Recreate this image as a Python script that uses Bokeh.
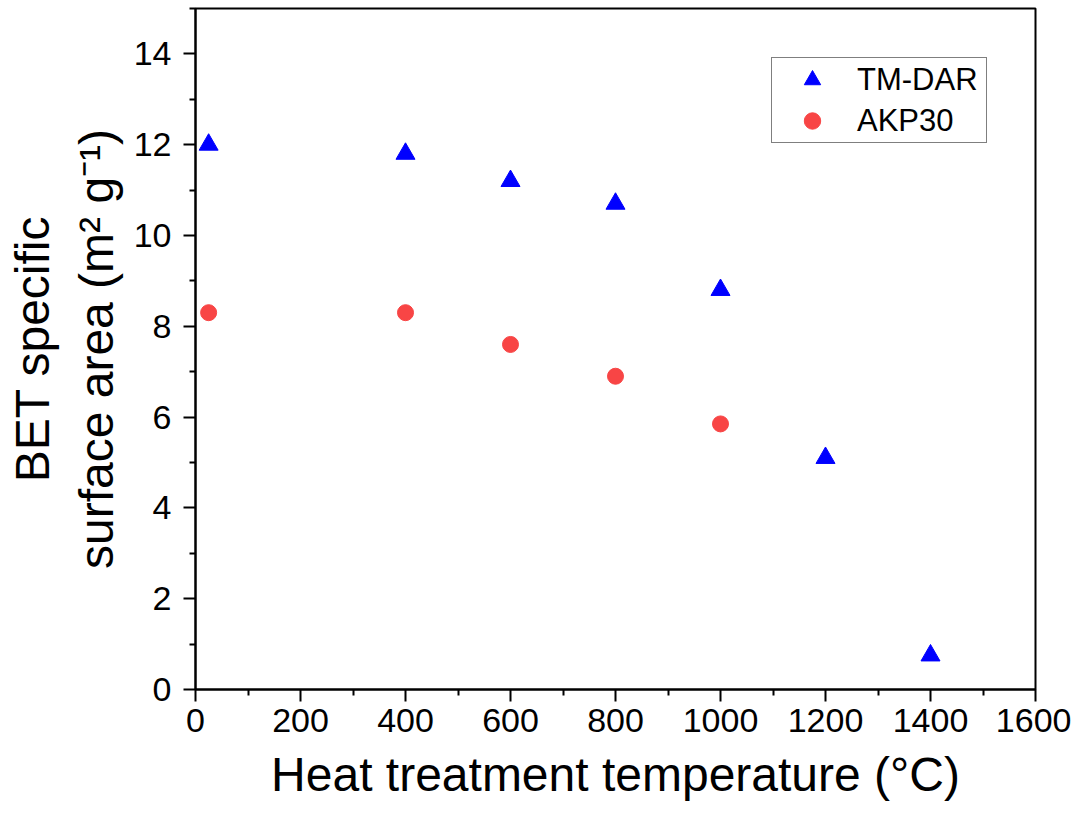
from bokeh.plotting import figure
from bokeh.models import Range1d, FixedTicker, Legend, LegendItem
from bokeh.embed import file_html
from bokeh.resources import INLINE

# Data
temp_tm = [25, 400, 600, 800, 1000, 1200, 1400]
bet_tm = [12.0, 11.8, 11.2, 10.7, 8.8, 5.1, 0.75]
temp_akp = [25, 400, 600, 800, 1000]
bet_akp = [8.3, 8.3, 7.6, 6.9, 5.85]
series_names = ["TM-DAR", "AKP30"]
x_ticks = [0, 200, 400, 600, 800, 1000, 1200, 1400, 1600]
y_ticks = [0, 2, 4, 6, 8, 10, 12, 14]
x_minor = [100, 300, 500, 700, 900, 1100, 1300, 1500]
y_minor = [1, 3, 5, 7, 9, 11, 13, 15]

FONT = "Liberation Sans"

p = figure(width=1071, height=805, output_backend="svg", toolbar_location=None,
           x_range=Range1d(0, 1600), y_range=Range1d(0, 15),
           min_border_left=195, min_border_right=36, min_border_top=8, min_border_bottom=116)

p.grid.visible = False
p.outline_line_color = "black"
p.outline_line_width = 2

for ax in (p.xaxis[0], p.yaxis[0]):
    ax.axis_line_width = 2
    ax.major_tick_line_width = 2
    ax.minor_tick_line_width = 2
    ax.major_tick_out = 12
    ax.major_tick_in = 0
    ax.minor_tick_out = 6
    ax.minor_tick_in = 0
    ax.major_label_text_font = FONT
    ax.major_label_text_font_size = "34px"
    ax.major_label_text_color = "black"
    ax.axis_label_text_font = FONT
    ax.axis_label_text_font_size = "48px"
    ax.axis_label_text_font_style = "normal"
    ax.axis_label_text_color = "black"

p.xaxis[0].major_label_standoff = 7
p.yaxis[0].major_label_standoff = 12
p.xaxis[0].ticker = FixedTicker(ticks=x_ticks, minor_ticks=x_minor)
p.yaxis[0].ticker = FixedTicker(ticks=y_ticks, minor_ticks=y_minor)
p.xaxis[0].axis_label = "Heat treatment temperature (°C)"
p.yaxis[0].axis_label = "BET specific\nsurface area (m² g⁻¹)"
p.xaxis[0].axis_label_standoff = 13
p.yaxis[0].axis_label_standoff = 8

r1 = p.scatter(temp_tm, bet_tm, marker="triangle", size=19, color="#0000FF")
r2 = p.scatter(temp_akp, bet_akp, marker="circle", size=16, color="#F84545")

legend = Legend(items=[LegendItem(label=series_names[0], renderers=[r1]),
                       LegendItem(label=series_names[1], renderers=[r2])],
                location=(576, 546))
legend.label_text_font = FONT
legend.label_text_font_size = "31px"
legend.label_text_color = "black"
legend.border_line_color = "black"
legend.border_line_width = 1
legend.background_fill_color = "white"
legend.background_fill_alpha = 1
legend.padding = 1
legend.spacing = 0
legend.glyph_width = 78
legend.glyph_height = 41
legend.label_height = 41
legend.label_width = 128
legend.label_standoff = 6
legend.margin = 0
p.add_layout(legend)

open("out.html", "w").write(file_html(p, INLINE))
